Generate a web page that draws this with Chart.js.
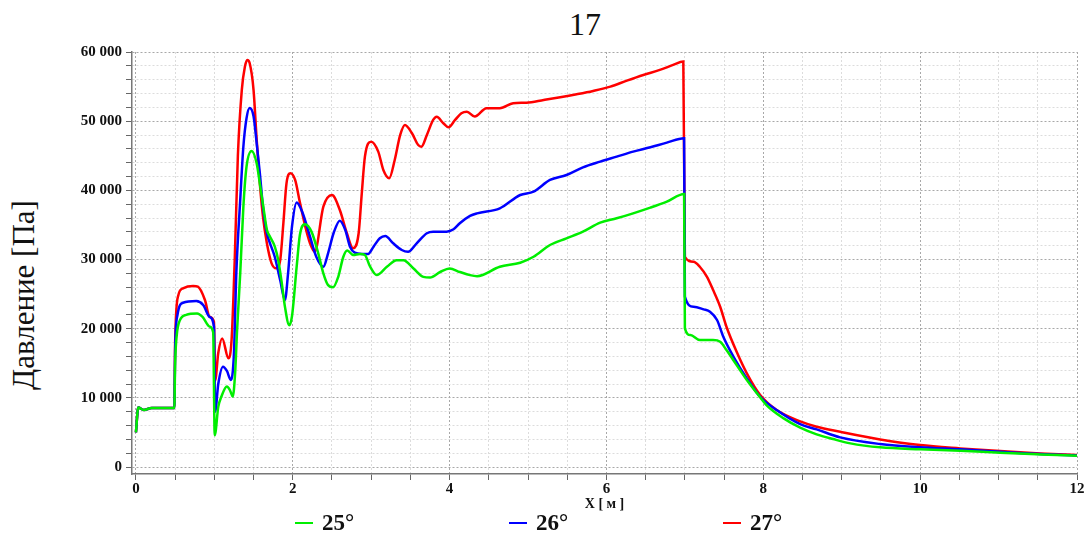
<!DOCTYPE html>
<html>
<head>
<meta charset="utf-8">
<script src="https://cdn.jsdelivr.net/npm/chart.js@4.4.1/dist/chart.umd.min.js"></script>
<style>
  html, body { margin: 0; padding: 0; background: #fff; }
  #wrap { position: relative; width: 1089px; height: 539px; overflow: hidden; font-family: 'Liberation Serif', 'Times New Roman', serif; color: #111; }
  #chart { position: absolute; left: 0; top: 0; }
  #page-num { position: absolute; left: 545px; top: 8px; width: 80px; text-align: center; font-size: 32px; line-height: 32px; }
  #ylabel { position: absolute; left: -126px; top: 277px; width: 300px; height: 36px; line-height: 36px; text-align: center; font-size: 31px; transform: rotate(-90deg); white-space: nowrap; }
  #legend { position: absolute; left: 295px; top: 510px; height: 26px; display: flex; }
  #legend .item { width: 214px; display: flex; align-items: center; font-weight: bold; font-size: 23px; line-height: 26px; }
  #legend .swatch { width: 18px; height: 2.5px; margin-right: 9px; }
</style>
</head>
<body>
<div id="wrap">
  <div id="page-num">17</div>
  <div id="ylabel">Давление [Па]</div>
  <canvas id="chart" width="1089" height="539"></canvas>
  <div id="legend"></div>
</div>
<script>
// series: [X (м), давление (Па)]
const p25 = [
  [0, 5000], [0.03, 8600], [0.1, 8250], [0.2, 8550], [0.49, 8550], [0.5, 15000], [0.52, 19000], [0.56, 21200],
  [0.64, 22000], [0.78, 22200], [0.85, 21700], [0.94, 20300], [0.985, 19500], [1.005, 4600], [1.05, 8700],
  [1.09, 10200], [1.16, 11650], [1.2, 11100], [1.235, 10200], [1.265, 13600], [1.29, 19800], [1.33, 28000],
  [1.37, 37600], [1.41, 43400], [1.475, 45700], [1.54, 43900], [1.58, 41000], [1.625, 37600], [1.67, 34300],
  [1.71, 33300], [1.77, 31900], [1.815, 29900], [1.86, 26600], [1.9, 23200], [1.955, 20500], [1.99, 21800],
  [2.05, 29000], [2.09, 33500], [2.155, 35100], [2.24, 34000], [2.325, 30900], [2.39, 28000], [2.45, 26300],
  [2.515, 26000], [2.58, 27500], [2.645, 30400], [2.695, 31300], [2.77, 30650], [2.86, 30800], [2.92, 30650],
  [2.985, 29000], [3.07, 27750], [3.2, 28950], [3.325, 29900], [3.41, 29900], [3.54, 28700], [3.665, 27500],
  [3.75, 27400], [3.88, 28200], [4.0, 28700], [4.13, 28200], [4.26, 27750], [4.35, 27600], [4.64, 28960],
  [4.9, 29540], [5.07, 30400], [5.28, 32100], [5.49, 33070], [5.7, 34030], [5.92, 35330], [6.13, 35960],
  [6.34, 36680], [6.56, 37500], [6.77, 38370], [6.99, 39470], [7.0, 20050], [7.07, 19090], [7.19, 18360],
  [7.36, 18360], [7.45, 18120], [7.53, 16920], [7.66, 14750], [7.79, 12580], [7.92, 10660], [8.04, 8970],
  [8.26, 7040], [8.47, 5700], [8.68, 4730], [8.89, 4050], [9.11, 3430], [9.49, 2850], [10, 2560],
  [10.51, 2360], [11.02, 2070], [11.53, 1830], [12, 1630]
];
const p26 = [
  [0, 5000], [0.03, 8600], [0.1, 8250], [0.2, 8550], [0.49, 8550], [0.5, 17000], [0.53, 22000], [0.6, 23750],
  [0.77, 24000], [0.86, 23400], [0.94, 21700], [0.995, 20300], [1.01, 8000], [1.05, 12000], [1.11, 14500],
  [1.16, 13900], [1.21, 12600], [1.25, 16400], [1.28, 28000], [1.33, 38600], [1.37, 46300], [1.41, 50400],
  [1.45, 51900], [1.5, 50700], [1.54, 46800], [1.58, 42500], [1.62, 37600], [1.67, 33800], [1.71, 32350],
  [1.77, 30400], [1.84, 27000], [1.9, 24150], [1.94, 28000], [1.99, 34750], [2.05, 38250], [2.12, 36900],
  [2.22, 33300], [2.3, 30400], [2.39, 28960], [2.45, 30900], [2.52, 33800], [2.6, 35620], [2.67, 34270],
  [2.73, 31860], [2.79, 30990], [2.88, 30800], [2.96, 30800], [3.03, 31860], [3.11, 33070], [3.18, 33400],
  [3.28, 32350], [3.39, 31380], [3.47, 31130], [3.58, 32350], [3.71, 33800], [3.79, 34030], [3.96, 34030],
  [4.05, 34370], [4.13, 35240], [4.26, 36300], [4.35, 36680], [4.64, 37400], [4.9, 39330], [5.07, 39810],
  [5.28, 41500], [5.49, 42220], [5.7, 43330], [5.92, 44150], [6.13, 44870], [6.34, 45600], [6.56, 46230],
  [6.77, 46900], [6.99, 47530], [7.0, 24630], [7.11, 23180], [7.24, 22800], [7.32, 22460], [7.41, 21260],
  [7.49, 18840], [7.62, 15950], [7.79, 12830], [7.96, 10170], [8.17, 8240], [8.47, 6200], [8.68, 5450],
  [8.98, 4290], [9.49, 3330], [10, 2850], [10.51, 2560], [11.02, 2210], [11.53, 1880], [12, 1690]
];
const p27 = [
  [0, 5000], [0.03, 8600], [0.1, 8250], [0.2, 8550], [0.49, 8550], [0.5, 18000], [0.54, 24800], [0.6, 25840],
  [0.73, 26170], [0.79, 26070], [0.88, 24150], [0.94, 21730], [0.995, 21000], [1.01, 12500], [1.05, 16500],
  [1.1, 18600], [1.18, 15720], [1.22, 18400], [1.26, 30000], [1.3, 45000], [1.35, 54500], [1.39, 57900],
  [1.42, 58850], [1.45, 58400], [1.5, 54500], [1.54, 47300], [1.58, 41000], [1.62, 36200], [1.67, 32350],
  [1.73, 29450], [1.79, 28730], [1.84, 29930], [1.88, 35240], [1.92, 41020], [1.97, 42470], [2.03, 41500],
  [2.09, 38300], [2.16, 34750], [2.22, 32350], [2.28, 31130], [2.39, 37640], [2.5, 39330], [2.6, 37160],
  [2.69, 33800], [2.77, 31620], [2.84, 33800], [2.88, 39570], [2.92, 44870], [3.0, 47040], [3.09, 45600],
  [3.155, 42950], [3.23, 41750], [3.3, 44390], [3.37, 48010], [3.43, 49450], [3.52, 48250], [3.6, 46560],
  [3.64, 46320], [3.71, 48010], [3.79, 50180], [3.835, 50650], [3.92, 49700], [3.985, 49120], [4.07, 50180],
  [4.15, 51150], [4.22, 51380], [4.32, 50660], [4.47, 51870], [4.64, 51870], [4.81, 52590], [4.98, 52680],
  [5.2, 53070], [5.41, 53460], [5.62, 53890], [5.83, 54370], [6.05, 54990], [6.26, 55860], [6.47, 56680],
  [6.68, 57410], [6.85, 58130], [6.98, 58610], [7.0, 30400], [7.11, 29690], [7.19, 28960], [7.28, 27520],
  [7.36, 25590], [7.45, 23180], [7.53, 20290], [7.66, 16670], [7.79, 13550], [7.96, 10410], [8.17, 8240],
  [8.47, 6600], [8.68, 5830], [8.98, 5110], [9.49, 4000], [10, 3180], [10.51, 2700], [11.02, 2310],
  [11.53, 1980], [12, 1740]
];
const seriesLabels = ['25°', '26°', '27°'];
const seriesColors = ['#00ee00', '#0000ff', '#ff0000'];
const xLabelEvery = 2;      // подписи X: 0, 2, ... 12
const yLabelEvery = 10000;  // подписи Y: 0, 10 000, ... 60 000

const serif = "'Liberation Serif', 'Times New Roman', serif";
Chart.defaults.font.family = serif;
Chart.defaults.color = '#111';

const fmtPa = v => String(v).replace(/\B(?=(\d{3})+(?!\d))/g, ' ');

// шаг сетки: X каждые 0.5 м, Y каждые 2000 Па
const stepTicks = (from, to, step) => {
  const out = [];
  for (let k = 0; from + k * step <= to + 1e-9; k++) out.push({value: Math.round((from + k * step) * 1000) / 1000});
  return out;
};

const datasets = [p25, p26, p27].map((pts, i) => ({
  label: seriesLabels[i],
  data: pts.map(p => ({x: p[0], y: p[1]})),
  borderColor: seriesColors[i],
  backgroundColor: seriesColors[i],
  borderWidth: 2.5,
  pointRadius: 0,
  cubicInterpolationMode: 'monotone',
  fill: false
}));

new Chart(document.getElementById('chart'), {
  type: 'line',
  data: {datasets},
  options: {
    responsive: false,
    animation: false,
    layout: {padding: {top: 52, right: 12, left: 0, bottom: 0}},
    plugins: {legend: {display: false}, tooltip: {enabled: false}},
    scales: {
      x: {
        type: 'linear', min: -0.05, max: 12,
        afterFit: s => { s.height = 65; },
        afterBuildTicks: s => { s.ticks = stepTicks(0, 12, 0.5); },
        ticks: {
          autoSkip: false, maxRotation: 0, padding: 0,
          font: {size: 15, weight: 'bold'},
          callback: v => (v % xLabelEvery === 0 ? String(v) : '')
        },
        grid: {
          color: c => (c.tick && c.tick.value % xLabelEvery === 0 ? '#a8a8a8' : '#dcdcdc'),
          tickColor: '#666', tickLength: 6, lineWidth: 1
        },
        border: {color: '#777', width: 1.5, dash: [2, 2]},
        title: {display: true, text: 'X [ м ]', font: {size: 14, weight: 'bold'}, padding: {top: 0, bottom: 26}}
      },
      y: {
        min: -1000, max: 60000,
        afterFit: s => { s.width = 132; },
        afterBuildTicks: s => { s.ticks = stepTicks(0, 60000, 2000); },
        ticks: {
          autoSkip: false, padding: 4,
          font: {size: 15, weight: 'bold'},
          callback: v => (v % yLabelEvery === 0 ? fmtPa(v) : '')
        },
        grid: {
          color: c => (c.tick && c.tick.value % yLabelEvery === 0 ? '#a8a8a8' : '#dcdcdc'),
          tickColor: '#666', tickLength: 6, lineWidth: 1
        },
        border: {color: '#777', width: 1.5, dash: [2, 2]}
      }
    }
  }
});

// легенда под графиком
const legend = document.getElementById('legend');
seriesLabels.forEach((lbl, i) => {
  const item = document.createElement('div');
  item.className = 'item';
  item.innerHTML = `<span class="swatch" style="background:${seriesColors[i]}"></span><span>${lbl}</span>`;
  legend.appendChild(item);
});
</script>
</body>
</html>
